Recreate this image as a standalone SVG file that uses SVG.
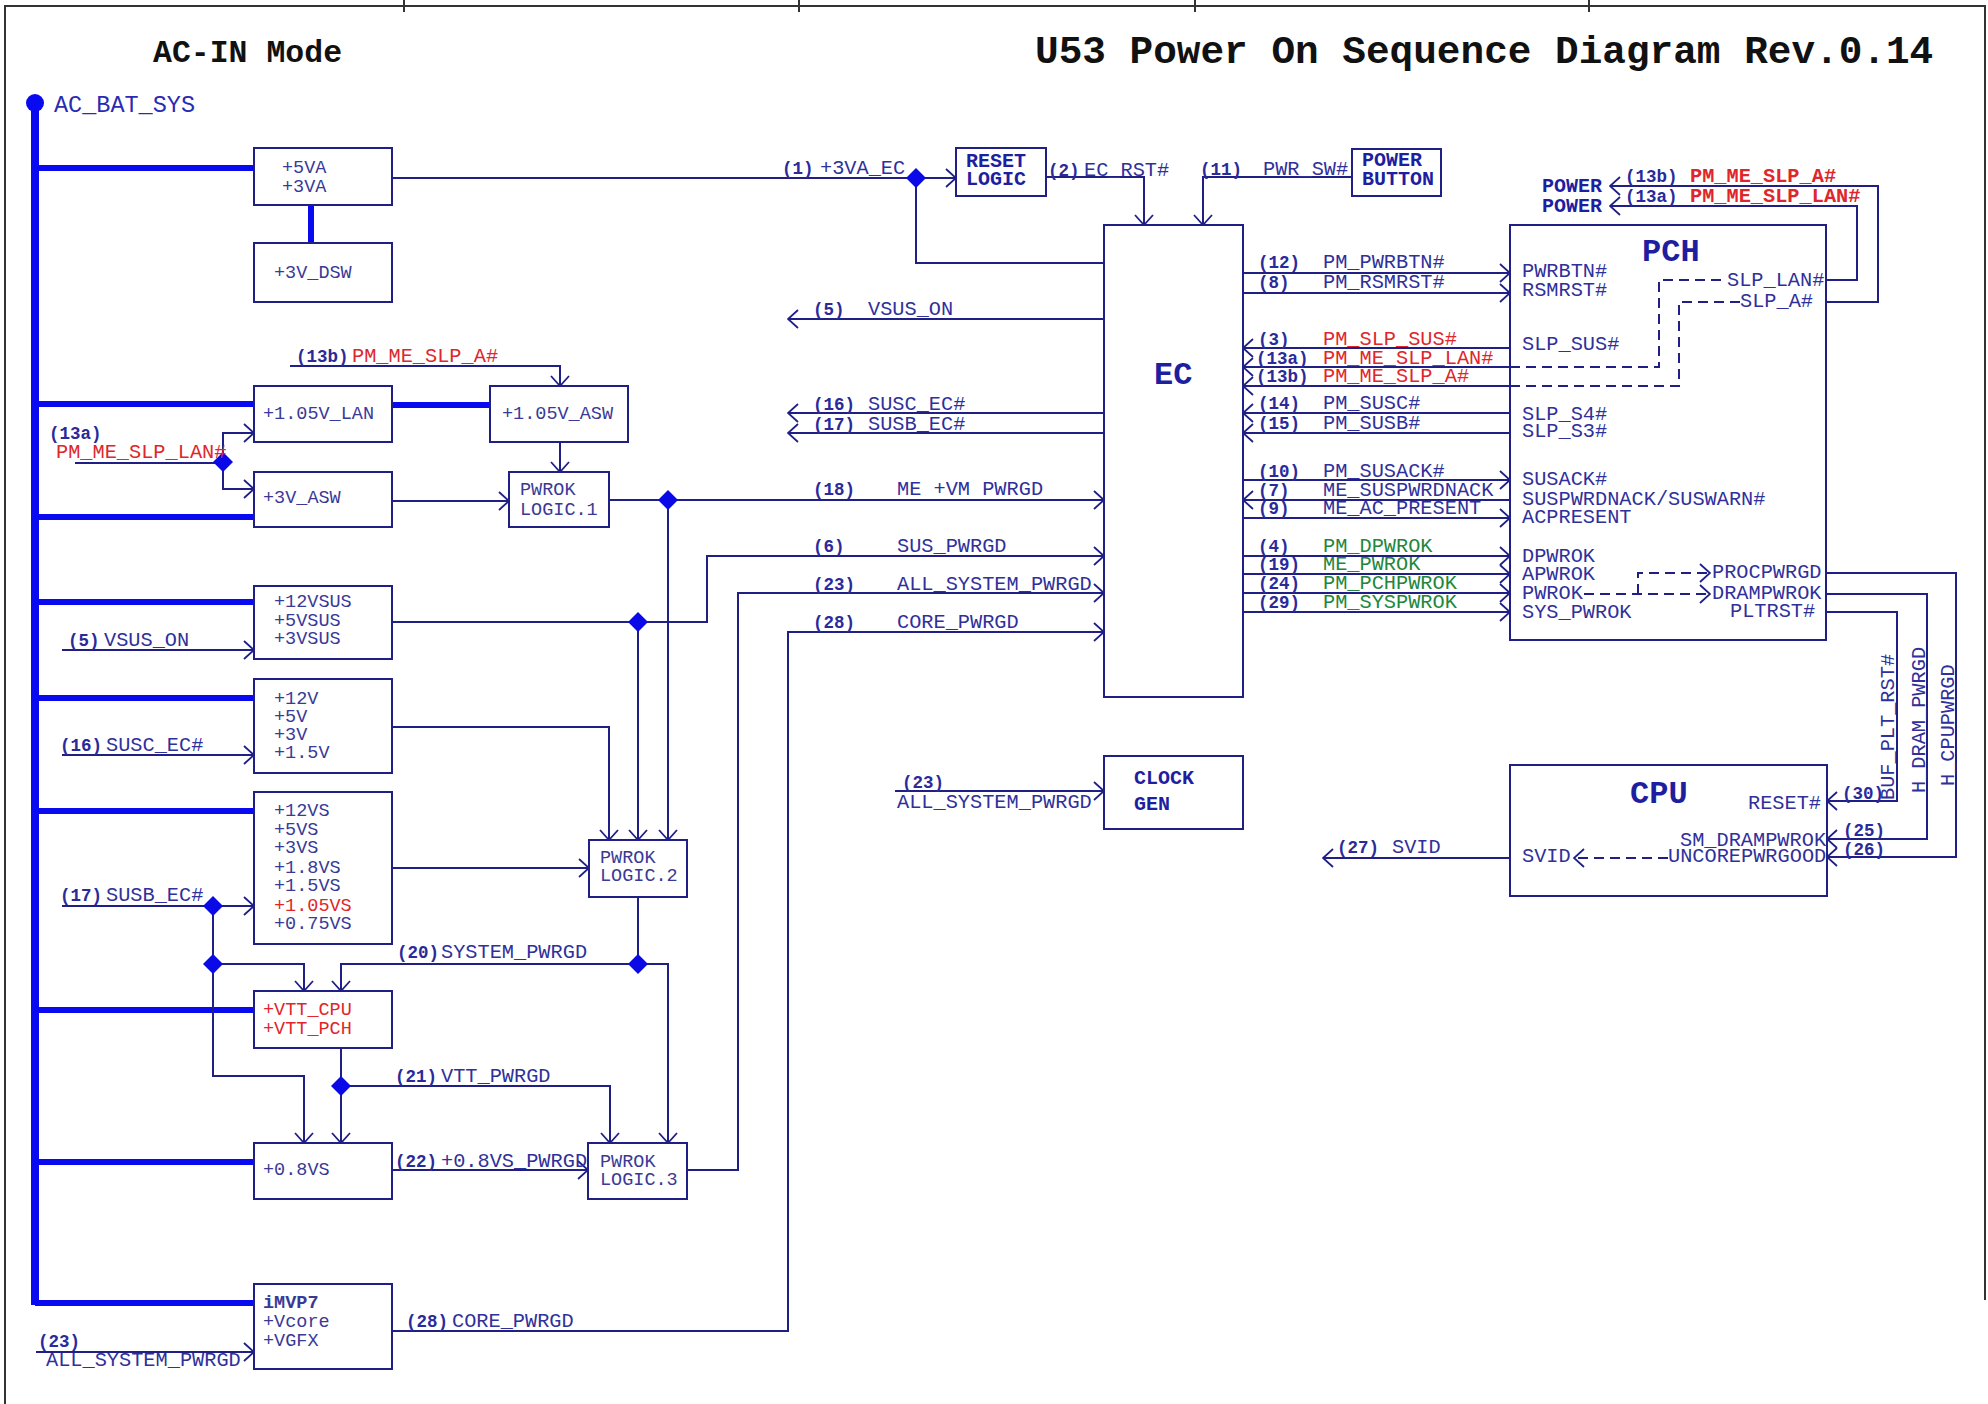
<svg xmlns="http://www.w3.org/2000/svg" width="1988" height="1404" viewBox="0 0 1988 1404">
<style>
text{font-family:"Liberation Mono","Courier New",monospace}
.s{font-size:20.3px;fill:#30309a}
.n{font-size:17.5px;font-weight:bold;fill:#2a2a9a}
.bx{font-size:18.5px;fill:#3a3a96}
.hd{font-weight:bold;fill:#1e1ea0}
.red{fill:#e0262b}
.grn{fill:#21873c}
.ln{fill:none;stroke:#1f1f86;stroke-width:2}
.ar{marker-end:url(#a)}
.dl{fill:none;stroke:#1f1f86;stroke-width:2;stroke-dasharray:10 6}
.thk{fill:none;stroke:#0a0af0;stroke-width:6}
.bus{fill:none;stroke:#0a0af0;stroke-width:8}
.box{fill:#fff;stroke:#1f1f86;stroke-width:2}
.frame{fill:none;stroke:#333;stroke-width:2}
</style>
<defs>
<marker id="a" viewBox="0 0 12 20" markerWidth="12" markerHeight="20" refX="11" refY="10" orient="auto" markerUnits="userSpaceOnUse"><path d="M1,1 L11,10 L1,19" fill="none" stroke="#1f1f86" stroke-width="1.8"/></marker>
<path id="dia" d="M0,-10 L10,0 L0,10 L-10,0 Z" fill="#0a0ae6"/>
</defs>
<rect width="1988" height="1404" fill="#fff"/>
<g id="frame">
<path class="frame" d="M5,1404 V6 H1985 V1300"/>
<path class="frame" d="M404,0 V12 M799,0 V12 M1195,0 V12 M1589,0 V12"/>
<text x="1035" y="63" font-size="39.4" font-weight="bold" fill="#111">U53 Power On Sequence Diagram Rev.0.14</text>
<text x="153" y="62" font-size="31.5" font-weight="bold" fill="#111">AC-IN Mode</text>
</g>

<g id="connectors">
<!-- power bus -->
<path class="bus" d="M35,103 V1305"/>
<path class="thk" d="M35,168 H254 M35,404 H254 M35,517 H254 M35,602 H254 M35,698 H254 M35,811 H254 M35,1010 H254 M35,1162 H254 M35,1303 H254"/>
<path class="thk" d="M311,205 V243 M392,405 H490"/>
<!-- top -->
<path class="ln ar" d="M392,178 H956"/>
<path class="ln" d="M916,178 V263 H1104"/>
<path class="ln ar" d="M1046,177 H1144 V225"/>
<path class="ln ar" d="M1352,177 H1203 V225"/>
<!-- EC left outputs -->
<path class="ln ar" d="M1104,319 H788"/>
<path class="ln ar" d="M1104,413 H788"/>
<path class="ln ar" d="M1104,433 H788"/>
<!-- left inputs -->
<path class="ln ar" d="M290,366 H560 V386"/>
<path class="ln" d="M75,463 H223"/>
<path class="ln ar" d="M223,462 V433 H254"/>
<path class="ln ar" d="M223,462 V489 H254"/>
<path class="ln ar" d="M392,501 H509"/>
<path class="ln ar" d="M560,442 V472"/>
<path class="ln ar" d="M609,500 H1104"/>
<path class="ln ar" d="M668,500 V840"/>
<path class="ln ar" d="M392,622 H707 V556 H1104"/>
<path class="ln ar" d="M638,622 V840"/>
<path class="ln ar" d="M392,727 H609 V840"/>
<path class="ln ar" d="M392,868 H589"/>
<path class="ln" d="M638,897 V964"/>
<path class="ln ar" d="M638,964 H341 V991"/>
<path class="ln ar" d="M638,964 H668 V1143"/>
<path class="ln ar" d="M62,906 H254"/>
<path class="ln ar" d="M213,906 V1076 H304 V1143"/>
<path class="ln ar" d="M213,964 H304 V991"/>
<path class="ln ar" d="M341,1048 V1143"/>
<path class="ln ar" d="M341,1086 H610 V1143"/>
<path class="ln ar" d="M392,1170 H588"/>
<path class="ln ar" d="M687,1170 H738 V593 H1104"/>
<path class="ln ar" d="M392,1331 H788 V632 H1104"/>
<path class="ln ar" d="M36,1352 H254"/>
<path class="ln ar" d="M62,650 H254"/>
<path class="ln ar" d="M62,755 H254"/>
<path class="ln ar" d="M895,791 H1104"/>
<!-- EC internal dashed -->
<path class="dl ar" d="M1144,225 V480 H1203 V556 H1243"/>
<path class="dl ar" d="M1104,500 H1184 V574 H1243"/>
<path class="dl ar" d="M1104,593 H1243"/>
<path class="dl ar" d="M1104,632 H1184 V612 H1243"/>
<!-- EC <-> PCH -->
<path class="ln ar" d="M1243,273 H1510"/>
<path class="ln ar" d="M1243,293 H1510"/>
<path class="ln ar" d="M1510,348 H1243"/>
<path class="ln ar" d="M1510,367 H1243"/>
<path class="ln ar" d="M1510,386 H1243"/>
<path class="ln ar" d="M1510,413 H1243"/>
<path class="ln ar" d="M1510,433 H1243"/>
<path class="ln ar" d="M1243,480 H1510"/>
<path class="ln ar" d="M1510,500 H1243"/>
<path class="ln ar" d="M1243,518 H1510"/>
<path class="ln ar" d="M1243,556 H1510"/>
<path class="ln ar" d="M1243,574 H1510"/>
<path class="ln ar" d="M1243,593 H1510"/>
<path class="ln ar" d="M1243,612 H1510"/>
<!-- PCH internal dashed -->
<path class="dl" d="M1510,367 H1659 V280 H1727"/>
<path class="dl" d="M1510,386 H1679 V302 H1740"/>
<path class="dl ar" d="M1584,594 H1710"/>
<path class="dl ar" d="M1638,594 V573 H1710"/>
<!-- PCH top outputs -->
<path class="ln ar" d="M1826,280 H1857 V206 H1610"/>
<path class="ln ar" d="M1826,302 H1878 V186 H1610"/>
<!-- PCH -> CPU -->
<path class="ln ar" d="M1826,573 H1956 V857 H1827"/>
<path class="ln ar" d="M1826,594 H1927 V839 H1827"/>
<path class="ln ar" d="M1826,612 H1897 V801 H1827"/>
<path class="dl ar" d="M1668,858 H1574"/>
<path class="ln ar" d="M1510,858 H1323"/>
<!-- junction diamonds -->
<use href="#dia" x="916" y="178"/>
<use href="#dia" x="223" y="462"/>
<use href="#dia" x="668" y="500"/>
<use href="#dia" x="638" y="622"/>
<use href="#dia" x="213" y="906"/>
<use href="#dia" x="213" y="964"/>
<use href="#dia" x="638" y="964"/>
<use href="#dia" x="341" y="1086"/>
</g>

<g id="labels">
<text class="n" x="782" y="174">(1)</text><text class="s" x="820" y="174">+3VA_EC</text>
<text class="n" x="1048" y="176">(2)</text><text class="s" x="1084" y="176">EC_RST#</text>
<text class="n" x="1200" y="175">(11)</text><text class="s" x="1263" y="175">PWR_SW#</text>
<text class="n" x="813" y="315">(5)</text><text class="s" x="868" y="315">VSUS_ON</text>
<text class="n" x="813" y="410">(16)</text><text class="s" x="868" y="410">SUSC_EC#</text>
<text class="n" x="813" y="430">(17)</text><text class="s" x="868" y="430">SUSB_EC#</text>
<text class="n" x="813" y="495">(18)</text><text class="s" x="897" y="495">ME +VM PWRGD</text>
<text class="n" x="813" y="552">(6)</text><text class="s" x="897" y="552">SUS_PWRGD</text>
<text class="n" x="813" y="590">(23)</text><text class="s" x="897" y="590">ALL_SYSTEM_PWRGD</text>
<text class="n" x="813" y="628">(28)</text><text class="s" x="897" y="628">CORE_PWRGD</text>
<text class="n" x="902" y="788">(23)</text><text class="s" x="897" y="808">ALL_SYSTEM_PWRGD</text>
<text class="n" x="296" y="362">(13b)</text><text class="s red" x="352" y="362">PM_ME_SLP_A#</text>
<text class="n" x="49" y="439">(13a)</text><text class="s red" x="56" y="458">PM_ME_SLP_LAN#</text>
<text class="n" x="68" y="646">(5)</text><text class="s" x="104" y="646">VSUS_ON</text>
<text class="n" x="60" y="751">(16)</text><text class="s" x="106" y="751">SUSC_EC#</text>
<text class="n" x="60" y="901">(17)</text><text class="s" x="106" y="901">SUSB_EC#</text>
<text class="n" x="397" y="958">(20)</text><text class="s" x="441" y="958">SYSTEM_PWRGD</text>
<text class="n" x="395" y="1082">(21)</text><text class="s" x="441" y="1082">VTT_PWRGD</text>
<text class="n" x="395" y="1167">(22)</text><text class="s" x="441" y="1167">+0.8VS_PWRGD</text>
<text class="n" x="406" y="1327">(28)</text><text class="s" x="452" y="1327">CORE_PWRGD</text>
<text class="n" x="38" y="1347">(23)</text><text class="s" x="46" y="1366">ALL_SYSTEM_PWRGD</text>
<text class="n" x="1258" y="268">(12)</text><text class="s" x="1323" y="268">PM_PWRBTN#</text>
<text class="n" x="1258" y="288">(8)</text><text class="s" x="1323" y="288">PM_RSMRST#</text>
<text class="n" x="1258" y="345">(3)</text><text class="s red" x="1323" y="345">PM_SLP_SUS#</text>
<text class="n" x="1256" y="364">(13a)</text><text class="s red" x="1323" y="364">PM_ME_SLP_LAN#</text>
<text class="n" x="1256" y="382">(13b)</text><text class="s red" x="1323" y="382">PM_ME_SLP_A#</text>
<text class="n" x="1258" y="409">(14)</text><text class="s" x="1323" y="409">PM_SUSC#</text>
<text class="n" x="1258" y="429">(15)</text><text class="s" x="1323" y="429">PM_SUSB#</text>
<text class="n" x="1258" y="477">(10)</text><text class="s" x="1323" y="477">PM_SUSACK#</text>
<text class="n" x="1258" y="496">(7)</text><text class="s" x="1323" y="496">ME_SUSPWRDNACK</text>
<text class="n" x="1258" y="514">(9)</text><text class="s" x="1323" y="514">ME_AC_PRESENT</text>
<text class="n" x="1258" y="552">(4)</text><text class="s grn" x="1323" y="552">PM_DPWROK</text>
<text class="n" x="1258" y="570">(19)</text><text class="s grn" x="1323" y="570">ME_PWROK</text>
<text class="n" x="1258" y="589">(24)</text><text class="s grn" x="1323" y="589">PM_PCHPWROK</text>
<text class="n" x="1258" y="608">(29)</text><text class="s grn" x="1323" y="608">PM_SYSPWROK</text>
<text class="n" x="1625" y="182">(13b)</text><text class="s red" x="1690" y="182" font-weight="bold">PM_ME_SLP_A#</text>
<text class="n" x="1625" y="202">(13a)</text><text class="s red" x="1690" y="202" font-weight="bold">PM_ME_SLP_LAN#</text>
<text class="s" transform="translate(1894,800) rotate(-90)">BUF_PLT_RST#</text>
<text class="s" transform="translate(1925,793) rotate(-90)">H_DRAM_PWRGD</text>
<text class="s" transform="translate(1954,786) rotate(-90)">H_CPUPWRGD</text>
<text class="n" x="1842" y="799">(30)</text>
<text class="n" x="1843" y="836">(25)</text>
<text class="n" x="1843" y="855">(26)</text>
<text class="n" x="1337" y="853">(27)</text><text class="s" x="1392" y="853">SVID</text>
</g>

<g id="n-acbat">
<circle cx="35" cy="103" r="9" fill="#0a0af0"/>
<text x="54" y="112" font-size="23.5" fill="#2a2ab4">AC_BAT_SYS</text>
</g>
<g id="n-5va"><rect class="box" x="254" y="148" width="138" height="57"/><text class="bx" x="282" y="173">+5VA</text><text class="bx" x="282" y="192">+3VA</text></g>
<g id="n-3vdsw"><rect class="box" x="254" y="243" width="138" height="59"/><text class="bx" x="274" y="278">+3V_DSW</text></g>
<g id="n-105lan"><rect class="box" x="254" y="386" width="138" height="56"/><text class="bx" x="263" y="419">+1.05V_LAN</text></g>
<g id="n-105asw"><rect class="box" x="490" y="386" width="138" height="56"/><text class="bx" x="502" y="419">+1.05V_ASW</text></g>
<g id="n-3vasw"><rect class="box" x="254" y="472" width="138" height="55"/><text class="bx" x="263" y="503">+3V_ASW</text></g>
<g id="n-pwrok1"><rect class="box" x="509" y="472" width="100" height="55"/><text class="bx" x="520" y="495">PWROK</text><text class="bx" x="520" y="515">LOGIC.1</text></g>
<g id="n-12vsus"><rect class="box" x="254" y="586" width="138" height="73"/><text class="bx" x="274" y="607">+12VSUS</text><text class="bx" x="274" y="626">+5VSUS</text><text class="bx" x="274" y="644">+3VSUS</text></g>
<g id="n-12v"><rect class="box" x="254" y="679" width="138" height="94"/><text class="bx" x="274" y="704">+12V</text><text class="bx" x="274" y="722">+5V</text><text class="bx" x="274" y="740">+3V</text><text class="bx" x="274" y="758">+1.5V</text></g>
<g id="n-12vs"><rect class="box" x="254" y="792" width="138" height="152"/><text class="bx" x="274" y="816">+12VS</text><text class="bx" x="274" y="835">+5VS</text><text class="bx" x="274" y="853">+3VS</text><text class="bx" x="274" y="873">+1.8VS</text><text class="bx" x="274" y="891">+1.5VS</text><text class="bx red" x="274" y="911">+1.05VS</text><text class="bx" x="274" y="929">+0.75VS</text></g>
<g id="n-pwrok2"><rect class="box" x="589" y="840" width="98" height="57"/><text class="bx" x="600" y="863">PWROK</text><text class="bx" x="600" y="881">LOGIC.2</text></g>
<g id="n-vtt"><rect class="box" x="254" y="991" width="138" height="57"/><text class="bx red" x="263" y="1015">+VTT_CPU</text><text class="bx red" x="263" y="1034">+VTT_PCH</text></g>
<g id="n-08vs"><rect class="box" x="254" y="1143" width="138" height="56"/><text class="bx" x="263" y="1175">+0.8VS</text></g>
<g id="n-pwrok3"><rect class="box" x="588" y="1143" width="99" height="56"/><text class="bx" x="600" y="1167">PWROK</text><text class="bx" x="600" y="1185">LOGIC.3</text></g>
<g id="n-imvp7"><rect class="box" x="254" y="1284" width="138" height="85"/><text class="bx" x="263" y="1308" font-weight="bold">iMVP7</text><text class="bx" x="263" y="1327">+Vcore</text><text class="bx" x="263" y="1346">+VGFX</text></g>
<g id="n-reset"><rect class="box" x="956" y="148" width="90" height="48"/><text class="hd" font-size="20" x="966" y="167">RESET</text><text class="hd" font-size="20" x="966" y="185">LOGIC</text></g>
<g id="n-pwrbtn"><rect class="box" x="1352" y="149" width="89" height="47"/><text class="hd" font-size="20" x="1362" y="166">POWER</text><text class="hd" font-size="20" x="1362" y="185">BUTTON</text></g>
<g id="n-ec"><rect class="box" x="1104" y="225" width="139" height="472" fill="none"/><text class="hd" font-size="32" x="1154" y="384">EC</text></g>
<g id="n-clock"><rect class="box" x="1104" y="756" width="139" height="73"/><text class="hd" font-size="20" x="1134" y="784">CLOCK</text><text class="hd" font-size="20" x="1134" y="810">GEN</text></g>
<g id="n-pch">
<rect x="1510" y="225" width="316" height="415" fill="none" stroke="#1f1f86" stroke-width="2"/>
<text class="hd" font-size="32" x="1642" y="261">PCH</text>
<text class="s" x="1522" y="277">PWRBTN#</text>
<text class="s" x="1522" y="296">RSMRST#</text>
<text class="s" x="1522" y="350">SLP_SUS#</text>
<text class="s" x="1522" y="420">SLP_S4#</text>
<text class="s" x="1522" y="437">SLP_S3#</text>
<text class="s" x="1522" y="485">SUSACK#</text>
<text class="s" x="1522" y="505">SUSPWRDNACK/SUSWARN#</text>
<text class="s" x="1522" y="523">ACPRESENT</text>
<text class="s" x="1522" y="562">DPWROK</text>
<text class="s" x="1522" y="580">APWROK</text>
<text class="s" x="1522" y="599">PWROK</text>
<text class="s" x="1522" y="618">SYS_PWROK</text>
<text class="s" x="1727" y="286">SLP_LAN#</text>
<text class="s" x="1740" y="307">SLP_A#</text>
<text class="s" x="1712" y="578">PROCPWRGD</text>
<text class="s" x="1712" y="599">DRAMPWROK</text>
<text class="s" x="1730" y="617">PLTRST#</text>
<text class="hd" font-size="20" x="1542" y="192">POWER</text>
<text class="hd" font-size="20" x="1542" y="212">POWER</text>
</g>
<g id="n-cpu">
<rect x="1510" y="765" width="317" height="131" fill="none" stroke="#1f1f86" stroke-width="2"/>
<text class="hd" font-size="32" x="1630" y="803">CPU</text>
<text class="s" x="1748" y="809">RESET#</text>
<text class="s" x="1680" y="846">SM_DRAMPWROK</text>
<text class="s" x="1668" y="862">UNCOREPWRGOOD</text>
<text class="s" x="1522" y="862">SVID</text>
</g>
</svg>
